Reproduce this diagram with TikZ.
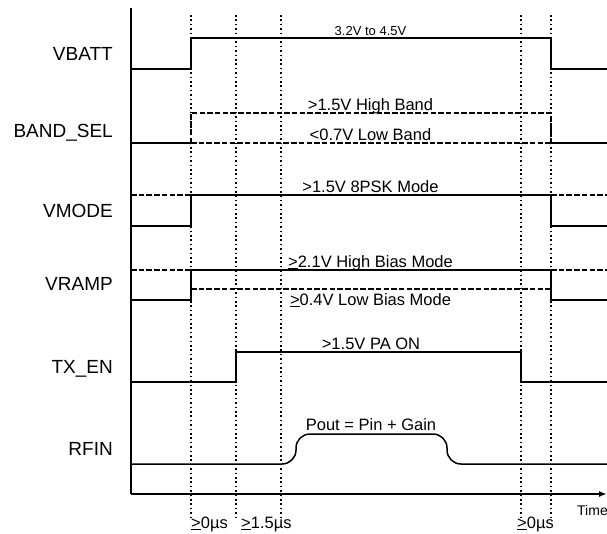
\documentclass[tikz,border=0pt]{standalone}
\usepackage{fontspec}
\setmainfont{Liberation Sans}
\usetikzlibrary{arrows.meta}
\begin{document}
\begin{tikzpicture}[x=1pt,y=-1pt,
  sig/.style={line width=1.5pt, line join=miter},
  dsig/.style={line width=2.1pt, dash pattern=on 5.5pt off 2.2pt},
  guide/.style={line width=1.6pt, dash pattern=on 1.6pt off 2.8pt},
  axisline/.style={line width=1.7pt},
  lab/.style={font=\fontsize{19}{19}\selectfont, anchor=base east, inner sep=0pt},
  note/.style={font=\fontsize{16.5}{16.5}\selectfont, anchor=base, inner sep=0pt},
  small/.style={font=\fontsize{13}{13}\selectfont, anchor=base, inner sep=0pt},
  tlab/.style={font=\fontsize{16.5}{16.5}\selectfont, anchor=base west, inner sep=0pt}]
\useasboundingbox (0,0) rectangle (607,533);
% guides
\foreach \gx in {191,236,281,521,551} \draw[guide] (\gx,15) -- (\gx,517);
% axes
\draw[axisline] (131,8) -- (131,494);
\draw[axisline,-{Latex[length=8pt,width=6pt]}] (131,494) -- (607,494);
% left labels
\node[lab] (lvbatt) at (113,60) {VBATT};
\node[lab] (lband) at (113,137) {BAND\_SEL};
\node[lab] (lvmode) at (113,217) {VMODE};
\node[lab] (lvramp) at (113,290) {VRAMP};
\node[lab] (ltxen) at (113,373) {TX\_EN};
\node[lab] (lrfin) at (113,455) {RFIN};
% VBATT
\draw[sig] (131,69) -- (191,69) -- (191,38) -- (551,38) -- (551,69) -- (607,69);
\node[small] (nvbatt) at (370.5,35) {3.2V to 4.5V};
% BAND_SEL
\draw[sig] (131,143) -- (191,143);
\draw[dsig] (191,143) -- (191,113) -- (551,113) -- (551,143);
\draw[dsig] (191,143) -- (551,143);
\draw[sig] (551,143) -- (607,143);
\node[note] (nhb) at (370.5,110) {>1.5V High Band};
\node[note] (nlb) at (370.5,140) {<0.7V Low Band};
% VMODE
\draw[dsig] (131,195) -- (191,195);
\draw[sig] (131,226) -- (191,226) -- (191,195) -- (551,195) -- (551,226) -- (607,226);
\draw[dsig] (551,195) -- (607,195);
\node[note] (nmode) at (370.5,192.5) {>1.5V 8PSK Mode};
% VRAMP
\draw[dsig] (131,270) -- (191,270);
\draw[sig] (131,300) -- (191,300) -- (191,270) -- (551,270) -- (551,300) -- (607,300);
\draw[dsig] (191,289) -- (551,289);
\draw[dsig] (551,270) -- (607,270);
\node[note] (nhbias) at (370.5,267) {\underline{>}2.1V High Bias Mode};
\node[note] (nlbias) at (370.5,305) {\underline{>}0.4V Low Bias Mode};
% TX_EN
\draw[sig] (131,382) -- (236,382) -- (236,352) -- (521,352) -- (521,382) -- (607,382);
\node[note] (npa) at (371,349.5) {>1.5V PA ON};
% RFIN
\draw[sig, rounded corners=14pt] (131,464) -- (296,464) -- (296,434) -- (447,434) -- (447,464) -- (607,464);
\node[note] (npout) at (371,430) {Pout = Pin + Gain};
% time labels
\node[tlab] (t1) at (191,528) {\underline{>}0µs};
\node[tlab] (t2) at (241,528) {\underline{>}1.5µs};
\node[tlab] (t3) at (517,528) {\underline{>}0µs};
\node[font=\fontsize{14}{14}\selectfont, anchor=base west, inner sep=0pt] (time) at (577,515) {Time};
\end{tikzpicture}
\end{document}
